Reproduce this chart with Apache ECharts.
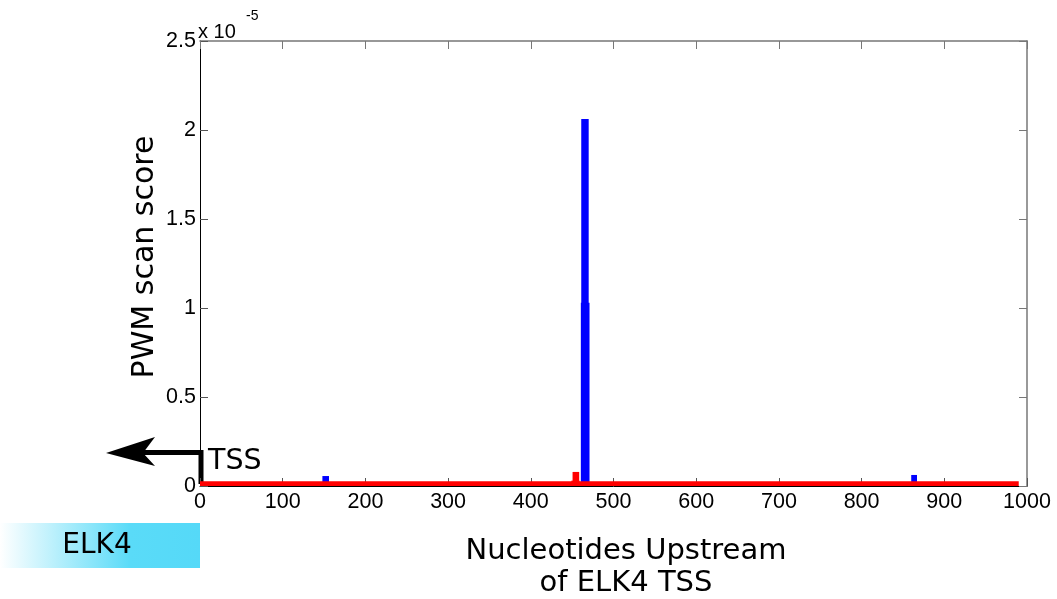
<!DOCTYPE html>
<html>
<head>
<meta charset="utf-8">
<script src="https://cdn.jsdelivr.net/npm/echarts@6/dist/echarts.min.js"></script>
<style>
  html, body { margin: 0; padding: 0; background: #fff; }
  #chart { width: 1057px; height: 599px; }
</style>
</head>
<body>
<div id="chart"></div>
<script>
// scores in units of 1e-5; each bar = [from nt, to nt, score]
var blueBars = [
  [148, 156, 0.056],
  [460.5, 471, 1.03],
  [461, 470, 2.062],
  [481, 490, 0.012],
  [860, 867, 0.062]
];
var redBars = [
  [0, 990, 0.027],
  [449, 459, 0.03],
  [450.5, 458.5, 0.079]
];
var xTicks = [0, 100, 200, 300, 400, 500, 600, 700, 800, 900, 1000];
var yTicks = [0, 0.5, 1, 1.5, 2, 2.5];

var chart = echarts.init(document.getElementById("chart"));

function barItem(color) {
  return function (params, api) {
    var p0 = api.coord([api.value(0), api.value(2)]);
    var p1 = api.coord([api.value(1), 0]);
    return {
      type: "rect",
      shape: { x: p0[0], y: p0[1], width: p1[0] - p0[0], height: p1[1] - p0[1] },
      style: { fill: color }
    };
  };
}

var tickFont = { color: "#000", fontSize: 21.5, fontFamily: "Liberation Sans" };

var option = {
  animation: false,
  grid: { left: 200, right: 30, top: 41, bottom: 113 },
  xAxis: [
    {
      type: "value",
      min: xTicks[0],
      max: xTicks[xTicks.length - 1],
      interval: 100,
      axisLine: { onZero: false, lineStyle: { color: "#000", width: 1 } },
      axisTick: { inside: true, length: 8, lineStyle: { color: "#555" } },
      axisLabel: Object.assign({ margin: 5, formatter: function (v) { return String(v); } }, tickFont),
      splitLine: { show: false }
    },
    {
      type: "value",
      position: "top",
      min: xTicks[0],
      max: xTicks[xTicks.length - 1],
      interval: 100,
      axisLine: { show: true, onZero: false, lineStyle: { color: "#777", width: 1.5 } },
      axisTick: { show: true, inside: true, length: 8, lineStyle: { color: "#777" } },
      axisLabel: { show: false },
      splitLine: { show: false }
    }
  ],
  yAxis: [
    {
      type: "value",
      min: yTicks[0],
      max: yTicks[yTicks.length - 1],
      interval: 0.5,
      axisLine: { show: true, onZero: false, lineStyle: { color: "#000", width: 1 } },
      axisTick: { show: true, inside: true, length: 8, lineStyle: { color: "#555" } },
      axisLabel: Object.assign({ margin: 4 }, tickFont),
      splitLine: { show: false }
    },
    {
      type: "value",
      position: "right",
      min: yTicks[0],
      max: yTicks[yTicks.length - 1],
      interval: 0.5,
      axisLine: { show: true, onZero: false, lineStyle: { color: "#777", width: 1.5 } },
      axisTick: { show: true, inside: true, length: 8, lineStyle: { color: "#777" } },
      axisLabel: { show: false },
      splitLine: { show: false }
    }
  ],
  series: [
    {
      type: "custom",
      renderItem: barItem("#0000ff"),
      encode: { x: [0, 1], y: 2 },
      data: blueBars,
      clip: true
    },
    {
      type: "custom",
      renderItem: barItem("#ff0000"),
      encode: { x: [0, 1], y: 2 },
      data: redBars,
      clip: true
    }
  ],
  graphic: [
    // exponent
    {
      type: "text", left: 198, top: 22,
      style: { text: "x 10", fontSize: 20, fontFamily: "Liberation Sans", fill: "#000" }
    },
    {
      type: "text", left: 246, top: 9,
      style: { text: "-5", fontSize: 14, fontFamily: "Liberation Sans", fill: "#000" }
    },
    // y axis title
    {
      type: "text", x: 145, y: 257, rotation: Math.PI / 2,
      style: {
        text: "PWM scan score", fontSize: 30, fontFamily: "DejaVu Sans",
        fill: "#000", align: "center", verticalAlign: "middle"
      }
    },
    // x axis title
    {
      type: "text", x: 626, y: 567,
      style: {
        text: "Nucleotides Upstream\nof ELK4 TSS", fontSize: 29, lineHeight: 32,
        fontFamily: "DejaVu Sans", fill: "#000", align: "center", verticalAlign: "middle"
      }
    },
    // TSS arrow
    {
      type: "polyline",
      shape: { points: [[201, 484], [201, 452.5], [140, 452.5]] },
      style: { stroke: "#000", lineWidth: 5, fill: null, lineJoin: "miter" }
    },
    {
      type: "polygon",
      shape: { points: [[106, 453], [155, 437], [143, 453], [155, 466]] },
      style: { fill: "#000" }
    },
    {
      type: "text", left: 208, top: 447,
      style: { text: "TSS", fontSize: 28.5, fontFamily: "DejaVu Sans", fill: "#000" }
    },
    // ELK4 box
    {
      type: "rect",
      shape: { x: 0, y: 523, width: 200, height: 45 },
      style: {
        fill: new echarts.graphic.LinearGradient(0, 0, 1, 0, [
          { offset: 0, color: "#ffffff" },
          { offset: 0.65, color: "#5adbf8" },
          { offset: 1, color: "#55d9f8" }
        ])
      }
    },
    {
      type: "text", x: 97, y: 546,
      style: {
        text: "ELK4", fontSize: 28, fontFamily: "DejaVu Sans", fill: "#000",
        align: "center", verticalAlign: "middle"
      }
    }
  ]
};

chart.setOption(option);
</script>
</body>
</html>
